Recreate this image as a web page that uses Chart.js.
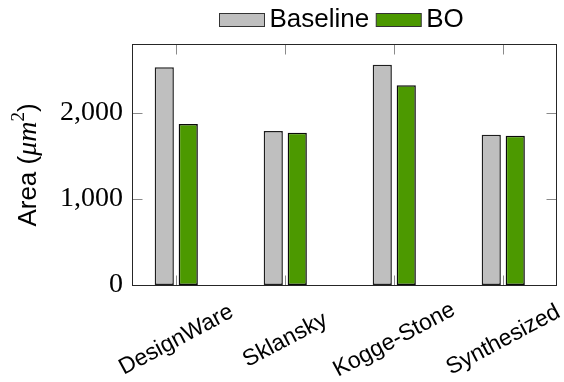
<!DOCTYPE html>
<html>
<head>
<meta charset="utf-8">
<script src="https://cdn.jsdelivr.net/npm/chart.js@4/dist/chart.umd.min.js"></script>
<style>
  html, body { margin: 0; padding: 0; background: #fff; }
  #wrap { width: 564px; height: 382px; }
</style>
</head>
<body>
<div id="wrap"><canvas id="c" width="564" height="382"></canvas></div>
<script>
// Adder architectures and their area (um^2)
const categories = ['DesignWare', 'Sklansky', 'Kogge-Stone', 'Synthesized'];
const seriesNames = ['Baseline', 'BO'];
const baselineArea = [2530, 1790, 2560, 1745];
const boArea = [1870, 1770, 2320, 1735];
const yTickValues = [0, 1000, 2000];
const yTickLabels = ['0', '1,000', '2,000'];

const SANS = 'Liberation Sans';
const SERIF = 'Liberation Serif';
const GRAY = '#bfbfbf';
const GREEN = '#4c9900';

// frame, inner tick marks, legend, rotated category labels and axis title
const decor = {
  id: 'decor',
  afterDatasetsDraw(chart) {
    const ctx = chart.ctx;
    const a = chart.chartArea;
    const xs = chart.scales.x, ys = chart.scales.y;
    const L = Math.round(a.left) - 0.5, R = Math.round(a.right) - 0.5;
    const T = Math.round(a.top) + 0.5, B = Math.round(a.bottom) + 0.5;
    const tl = 10;
    ctx.save();

    // inner tick marks
    ctx.strokeStyle = '#8a8a8a';
    ctx.lineWidth = 1;
    ctx.beginPath();
    categories.forEach((c, i) => {
      const px = Math.round(xs.getPixelForValue(i)) + 0.5;
      ctx.moveTo(px, T); ctx.lineTo(px, T + tl);
      ctx.moveTo(px, B); ctx.lineTo(px, B - tl);
    });
    yTickValues.forEach(v => {
      const py = Math.round(ys.getPixelForValue(v)) + 0.5;
      ctx.moveTo(L, py); ctx.lineTo(L + tl, py);
      ctx.moveTo(R, py); ctx.lineTo(R - tl, py);
    });
    ctx.stroke();

    // axis frame
    ctx.strokeStyle = '#262626';
    ctx.strokeRect(L, T, R - L, B - T);

    // category labels, rotated and centred under each tick
    ctx.fillStyle = '#000';
    ctx.font = '23px "' + SANS + '"';
    ctx.textAlign = 'center';
    ctx.textBaseline = 'middle';
    categories.forEach((c, i) => {
      const px = xs.getPixelForValue(i);
      ctx.save();
      ctx.translate(px, 340);
      ctx.rotate(-28 * Math.PI / 180);
      ctx.fillText(c, 0, 0);
      ctx.restore();
    });

    // y axis title: Area (μm²)
    const parts = [
      { t: 'Area (', f: '26px "' + SANS + '"', dy: 0 },
      { t: 'μm', f: 'italic 28px "' + SERIF + '"', dy: 0 },
      { t: '2', f: '19px "' + SERIF + '"', dy: -12 },
      { t: ')', f: '26px "' + SANS + '"', dy: 0 }
    ];
    let total = 0;
    parts.forEach(p => { ctx.font = p.f; p.w = ctx.measureText(p.t).width; total += p.w; });
    ctx.save();
    ctx.translate(36, 165);
    ctx.rotate(-Math.PI / 2);
    ctx.textAlign = 'left';
    ctx.textBaseline = 'alphabetic';
    let x = -total / 2;
    parts.forEach(p => { ctx.font = p.f; ctx.fillText(p.t, x, p.dy); x += p.w; });
    ctx.restore();

    // legend
    ctx.font = '26px "' + SANS + '"';
    ctx.textAlign = 'left';
    ctx.textBaseline = 'alphabetic';
    let lx = 219.5;
    chart.data.datasets.forEach(ds => {
      ctx.fillStyle = ds.backgroundColor;
      ctx.fillRect(lx, 13.5, 45, 13);
      ctx.strokeStyle = '#333';
      ctx.strokeRect(lx, 13.5, 45, 13);
      lx += 45 + 5;
      ctx.fillStyle = '#000';
      ctx.fillText(ds.label, lx, 27);
      lx += ctx.measureText(ds.label).width + 7;
    });
    ctx.restore();
  }
};

new Chart(document.getElementById('c'), {
  type: 'bar',
  data: {
    datasets: [
      {
        label: seriesNames[0],
        data: baselineArea.map((v, i) => ({ x: i, y: v })),
        backgroundColor: GRAY,
        borderColor: '#1e1e1e',
        borderWidth: 1.5,
        borderSkipped: false
      },
      {
        label: seriesNames[1],
        data: boArea.map((v, i) => ({ x: i, y: v })),
        backgroundColor: GREEN,
        borderColor: '#0a0a0a',
        borderWidth: 1.5,
        borderSkipped: false
      }
    ]
  },
  options: {
    responsive: false,
    animation: false,
    devicePixelRatio: 1,
    layout: { padding: { top: 44, right: 7, left: 0, bottom: 0 } },
    datasets: { bar: { categoryPercentage: 0.44, barPercentage: 0.8 } },
    plugins: { legend: { display: false }, tooltip: { enabled: false } },
    scales: {
      x: {
        type: 'linear',
        min: -0.397,
        max: 3.493,
        offset: false,
        grid: { display: false, drawTicks: false },
        border: { display: false },
        ticks: { display: false, stepSize: 1, includeBounds: false },
        afterFit(s) { s.height = 97; }
      },
      y: {
        min: 0,
        max: 2800,
        grid: { display: false, drawTicks: false },
        border: { display: false },
        afterBuildTicks(s) { s.ticks = yTickValues.map(v => ({ value: v })); },
        ticks: {
          padding: 10,
          color: '#000',
          font: { family: SERIF, size: 28 },
          callback: (v, i) => yTickLabels[i]
        },
        afterFit(s) { s.width = 133; }
      }
    }
  },
  plugins: [decor]
});
</script>
</body>
</html>
